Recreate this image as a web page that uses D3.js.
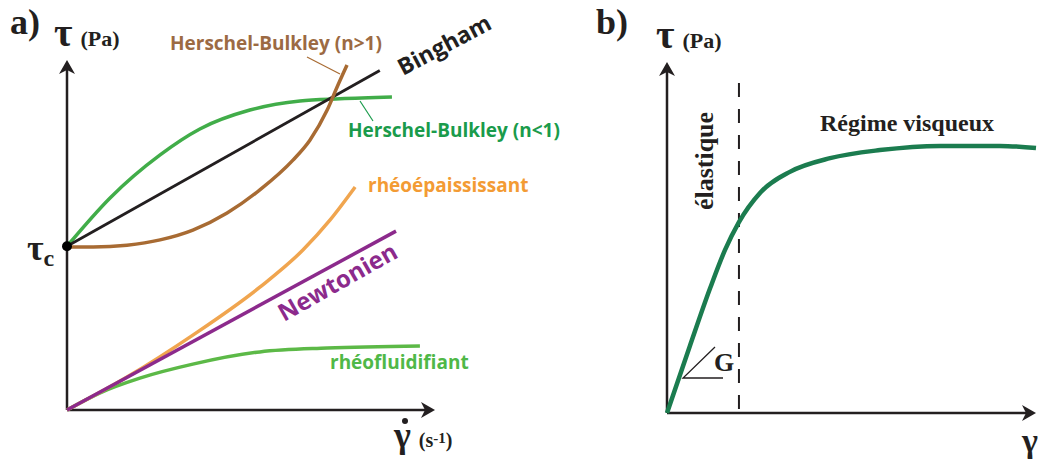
<!DOCTYPE html>
<html>
<head>
<meta charset="utf-8">
<script src="https://cdn.jsdelivr.net/npm/d3@7"></script>
<style>
	body { margin: 0; background: #fff; }
	svg { display: block; }
	.serif { font-family: 'Liberation Serif', 'DejaVu Serif', serif; font-weight: bold; }
	.sans { font-family: 'Open Sans', 'Noto Sans', sans-serif; font-weight: bold; }
</style>
</head>
<body>
<div id="chart"></div>
<script>
// panel a: flow curves (shear rate 0..10, stress 0..10)
var tauC = 4.68;
var binghamPts = [[0, tauC], [8.5, 9.7]];
var hbLowPts = [[0, 4.68], [1.17, 6.06], [2.53, 7.29], [3.61, 8.03], [4.97, 8.57], [6.33, 8.83], [7.42, 8.89], [8.83, 8.94]];
var hbHighPts = [[0, 4.66], [0.71, 4.66], [1.63, 4.71], [2.53, 4.86], [3.42, 5.14], [4.35, 5.63], [5.24, 6.29], [6.14, 7.14], [6.6, 7.71], [7.07, 8.57], [7.34, 9.23], [7.61, 9.86]];
var thickPts = [[0, 0], [1.63, 0.94], [3.42, 2.14], [5.24, 3.51], [6.41, 4.57], [7.15, 5.43], [7.83, 6.37]];
var newtonPts = [[0, 0], [8.94, 5.11]];
var thinPts = [[0, 0], [0.9, 0.49], [1.98, 0.91], [3.42, 1.31], [5.24, 1.66], [7.07, 1.77], [9.59, 1.83]];
// panel b: stress vs strain
var strainPts = [[0, 0], [0.62, 1.91], [1.17, 3.56], [1.57, 4.64], [1.95, 5.44], [2.52, 6.27], [3.33, 6.87], [4.42, 7.26], [5.77, 7.49], [7.4, 7.61], [9.02, 7.61], [10, 7.55]];
var yieldStrain = 1.95;

var W = 1038, H = 459;
var svg = d3.select('#chart').append('svg').attr('width', W).attr('height', H);

function arrowHead(g, x, y, dir) {
	// concave arrow tip, dir: 'up' or 'right'
	var p = dir == 'up'
		? [[x, y], [x + 8, y + 14], [x, y + 10], [x - 8, y + 14]]
		: [[x, y], [x - 14, y - 8], [x - 10, y], [x - 14, y + 8]];
	g.append('path').attr('d', 'M' + p.join('L') + 'Z').attr('fill', '#231f20');
}

// ---------- panel a ----------
var xa = d3.scaleLinear().domain([0, 10]).range([67, 435]);
var ya = d3.scaleLinear().domain([0, 10]).range([410, 60]);
var ga = svg.append('g');

ga.append('line').attr('x1', xa(0)).attr('y1', ya(0)).attr('x2', xa(0)).attr('y2', ya(10) + 6)
	.attr('stroke', '#231f20').attr('stroke-width', 2.5);
ga.append('line').attr('x1', xa(0)).attr('y1', ya(0)).attr('x2', xa(10) - 6).attr('y2', ya(0))
	.attr('stroke', '#231f20').attr('stroke-width', 2.5);
arrowHead(ga, xa(0), ya(10), 'up');
arrowHead(ga, xa(10), ya(0), 'right');

var lineA = d3.line().x(function(d) { return xa(d[0]); }).y(function(d) { return ya(d[1]); }).curve(d3.curveMonotoneX);
var curvesA = [
	{ pts: hbLowPts, color: '#41ad49', w: 3.5 },
	{ pts: thinPts, color: '#5cb947', w: 3.5 },
	{ pts: thickPts, color: '#f0a54f', w: 3.5 },
	{ pts: newtonPts, color: '#8c2a8c', w: 3.5 },
	{ pts: binghamPts, color: '#231f20', w: 2.8 },
	{ pts: hbHighPts, color: '#a86b33', w: 3.5 }
];
curvesA.forEach(function(c) {
	ga.append('path').datum(c.pts).attr('d', lineA)
		.attr('fill', 'none').attr('stroke', c.color).attr('stroke-width', c.w).attr('stroke-linecap', 'butt');
});
ga.append('circle').attr('cx', xa(0)).attr('cy', ya(tauC)).attr('r', 5).attr('fill', '#000');

// leader lines
ga.append('line').attr('x1', 307).attr('y1', 57).attr('x2', 340).attr('y2', 74).attr('stroke', '#a86b33').attr('stroke-width', 1.2);
ga.append('line').attr('x1', 360).attr('y1', 101).attr('x2', 373).attr('y2', 121).attr('stroke', '#1a9b4b').attr('stroke-width', 1.2);

// labels
ga.append('text').attr('class', 'serif').attr('x', 10).attr('y', 34).attr('font-size', 36).attr('fill', '#231f20').text('a)');
ga.append('text').attr('class', 'serif').attr('x', 54).attr('y', 46).attr('fill', '#231f20')
	.html('<tspan font-size="40">τ</tspan><tspan dx="8" font-size="22">(Pa)</tspan>');
ga.append('text').attr('class', 'serif').attr('x', 27).attr('y', 260).attr('fill', '#231f20')
	.html('<tspan font-size="36">τ</tspan><tspan font-size="24" dy="6">c</tspan>');
ga.append('text').attr('class', 'serif').attr('x', 394).attr('y', 447).attr('fill', '#231f20')
	.html('<tspan font-size="36">γ</tspan><tspan dx="8" font-size="20">(s</tspan><tspan font-size="15" dy="-4">-1</tspan><tspan font-size="20" dy="4">)</tspan>');
ga.append('circle').attr('cx', 405).attr('cy', 421).attr('r', 3).attr('fill', '#231f20');

ga.append('text').attr('class', 'sans').attr('x', 170).attr('y', 50).attr('font-size', 19).attr('fill', '#9c6a43').text('Herschel-Bulkley (n>1)');
ga.append('text').attr('class', 'sans').attr('x', 348).attr('y', 137).attr('font-size', 19).attr('fill', '#1a9b4b').text('Herschel-Bulkley (n<1)');
ga.append('text').attr('class', 'sans').attr('x', 368).attr('y', 192).attr('font-size', 19).attr('fill', '#f39b34').text('rhéoépaississant');
ga.append('text').attr('class', 'sans').attr('x', 330).attr('y', 369).attr('font-size', 19).attr('fill', '#4fb848').text('rhéofluidifiant');
ga.append('text').attr('class', 'sans').attr('font-size', 23).attr('fill', '#231f20')
	.attr('transform', 'translate(403,76) rotate(-28)').text('Bingham');
ga.append('text').attr('class', 'sans').attr('font-size', 24).attr('fill', '#8c2a8c')
	.attr('transform', 'translate(284,322) rotate(-29.5)').text('Newtonien');

// ---------- panel b ----------
var xb = d3.scaleLinear().domain([0, 10]).range([667, 1036]);
var yb = d3.scaleLinear().domain([0, 10]).range([413, 62]);
var gb = svg.append('g');

gb.append('line').attr('x1', xb(0)).attr('y1', yb(0)).attr('x2', xb(0)).attr('y2', yb(10) + 6)
	.attr('stroke', '#231f20').attr('stroke-width', 2.5);
gb.append('line').attr('x1', xb(0)).attr('y1', yb(0)).attr('x2', xb(10) - 6).attr('y2', yb(0))
	.attr('stroke', '#231f20').attr('stroke-width', 2.5);
arrowHead(gb, xb(0), yb(10), 'up');
arrowHead(gb, xb(10), yb(0), 'right');

gb.append('line').attr('x1', xb(yieldStrain)).attr('x2', xb(yieldStrain)).attr('y1', 83).attr('y2', yb(0))
	.attr('stroke', '#231f20').attr('stroke-width', 2).attr('stroke-dasharray', '14,12');

var lineB = d3.line().x(function(d) { return xb(d[0]); }).y(function(d) { return yb(d[1]); }).curve(d3.curveMonotoneX);
gb.append('path').datum(strainPts).attr('d', lineB)
	.attr('fill', 'none').attr('stroke', '#1b7c4f').attr('stroke-width', 4.5);

// slope marker G
gb.append('path').attr('d', 'M715,347L683,378L723,378').attr('fill', 'none').attr('stroke', '#231f20').attr('stroke-width', 1.3);
gb.append('text').attr('class', 'serif').attr('x', 714).attr('y', 371).attr('font-size', 26).attr('fill', '#231f20').text('G');

gb.append('text').attr('class', 'serif').attr('x', 596).attr('y', 34).attr('font-size', 36).attr('fill', '#231f20').text('b)');
gb.append('text').attr('class', 'serif').attr('x', 656).attr('y', 48).attr('fill', '#231f20')
	.html('<tspan font-size="40">τ</tspan><tspan dx="8" font-size="22">(Pa)</tspan>');
gb.append('text').attr('class', 'serif').attr('font-size', 26).attr('fill', '#231f20')
	.attr('text-anchor', 'middle').attr('transform', 'translate(713,161) rotate(-90)').text('élastique');
gb.append('text').attr('class', 'serif').attr('x', 820).attr('y', 131).attr('font-size', 24).attr('fill', '#231f20').text('Régime visqueux');
gb.append('text').attr('class', 'serif').attr('x', 1022).attr('y', 452).attr('font-size', 34).attr('fill', '#231f20').text('γ');
</script>
</body>
</html>
